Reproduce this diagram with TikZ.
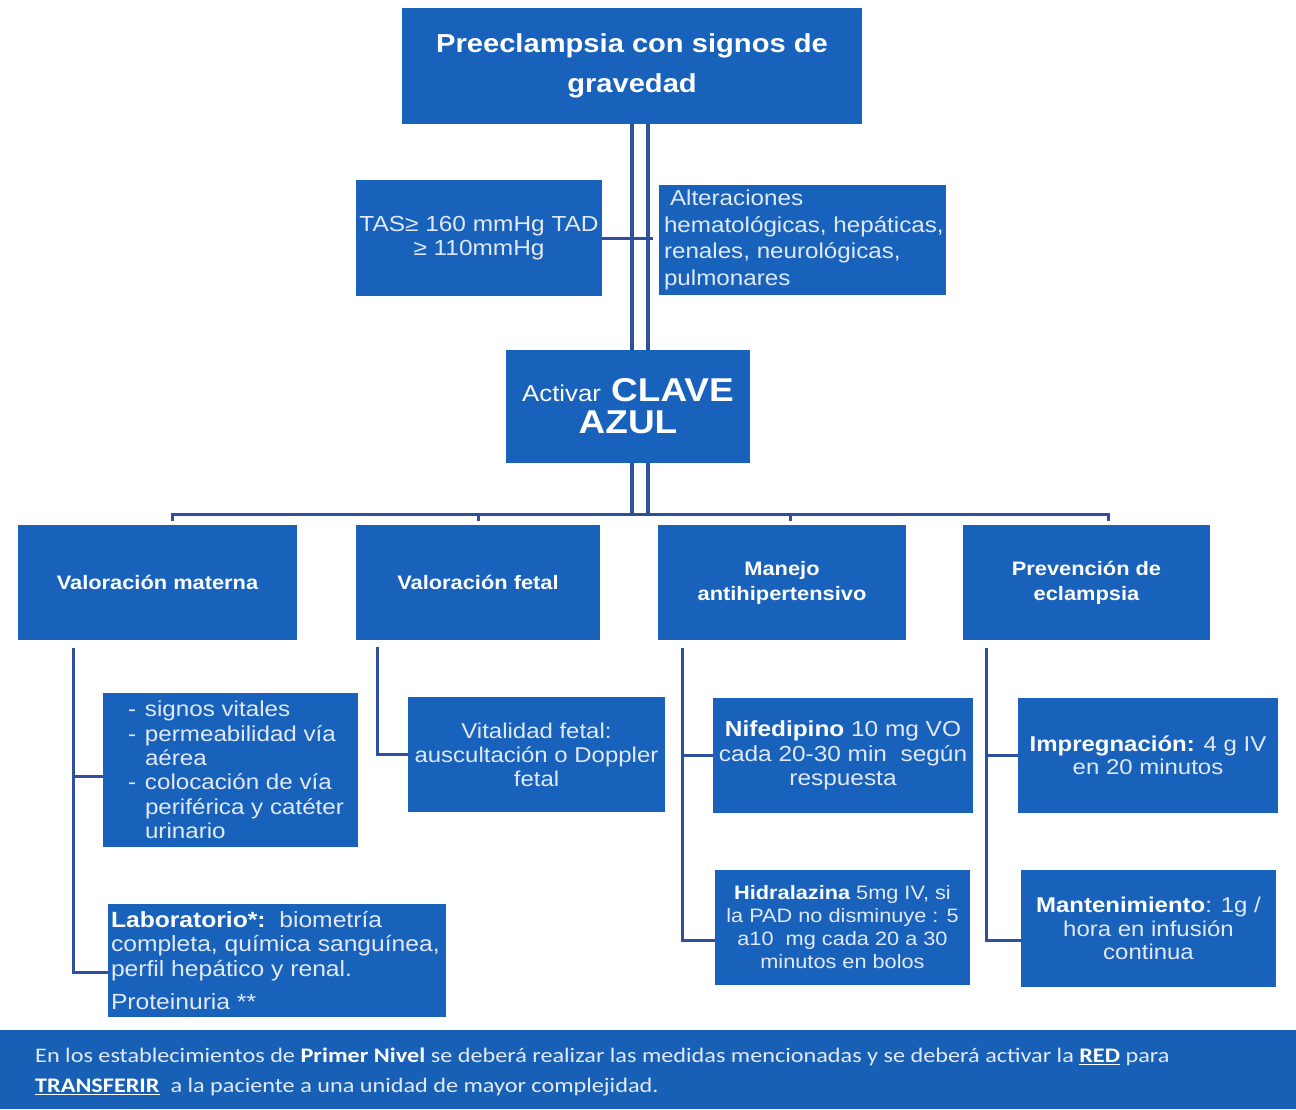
\documentclass[tikz,border=0pt]{standalone}
\usepackage{fontspec}
\setmainfont[FakeStretch=1.12]{Liberation Sans}
\newfontfamily\calib[FakeStretch=1.17]{Carlito}
\usetikzlibrary{calc}
\definecolor{boxblue}{RGB}{24,98,188}
\definecolor{lineblue}{RGB}{46,80,158}
\definecolor{txtc}{RGB}{226,233,246}
\definecolor{bannerblue}{RGB}{24,96,182}
\newcommand\hl[1]{\textcolor{white}{\bfseries #1}}
\newcommand\dsh{\makebox[17pt][l]{-}}
\begin{document}
\begin{tikzpicture}[x=1pt,y=-1pt,
  bx/.style={fill=boxblue, inner sep=0pt, text=txtc, align=center},
  conn/.style={draw=lineblue, line width=3pt},
  dconn/.style={draw=lineblue, line width=3.6pt},
  txt/.style={inner sep=0pt, text=txtc, align=left},
  hdr/.style={bx, minimum width=#1, minimum height=115pt, text=white, font=\bfseries\fontsize{19.5}{25}\selectfont}]
\useasboundingbox[fill=white] (0,0) rectangle (1296,1109);

% top level
\node[bx, minimum width=460pt, minimum height=116pt, text=white, font=\bfseries\fontsize{26}{40}\selectfont] (top) at (632,66) {Preeclampsia con signos de\\gravedad};
\node[bx, minimum width=246pt, minimum height=116pt, font=\fontsize{21.8}{24}\selectfont] (tas) at (479,238) {TAS≥ 160 mmHg TAD\\≥ 110mmHg};
\node[bx, minimum width=287pt, minimum height=110pt] (alt) at (802.5,240) {};
\node[txt, anchor=west, font=\fontsize{21.6}{26.5}\selectfont] (altt) at ([xshift=5pt]alt.west) {\hspace*{6pt}Alteraciones\\hematológicas, hepáticas,\\renales, neurológicas,\\pulmonares};
\node[bx, minimum width=244pt, minimum height=113pt, text=white, font=\bfseries\fontsize{33}{32}\selectfont] (clave) at (628,406.5) {{\mdseries\fontsize{23}{32}\selectfont Activar} CLAVE\\AZUL};

% headers
\node[hdr=279pt] (vm) at (157.5,582.5) {Valoración materna};
\node[hdr=244pt] (vf) at (478,582.5) {Valoración fetal};
\node[hdr=248pt] (mj) at (782,582.5) {Manejo\\antihipertensivo};
\node[hdr=247pt] (pe) at (1086.5,582.5) {Prevención de\\eclampsia};

% leaves
\node[bx, minimum width=255pt, minimum height=154pt] (sv) at (230.5,770) {};
\node[txt, anchor=west, font=\fontsize{21.6}{24.4}\selectfont] (svt) at ([xshift=25pt]sv.west) {\dsh signos vitales\\\dsh permeabilidad vía\\\hspace*{17pt}aérea\\\dsh colocación de vía\\\hspace*{17pt}periférica y catéter\\\hspace*{17pt}urinario};
\node[bx, minimum width=338pt, minimum height=113pt] (lab) at (277,960.5) {};
\node[txt, anchor=west, font=\fontsize{22}{24.5}\selectfont] (labt) at ([xshift=3pt]lab.west) {\hl{Laboratorio*:}\ \ biometría\\completa, química sanguínea,\\perfil hepático y renal.\\[9pt]Proteinuria **};
\node[bx, minimum width=257pt, minimum height=115pt, font=\fontsize{21.4}{24}\selectfont] (vit) at (536.5,754.5) {Vitalidad fetal:\\auscultación o Doppler\\fetal};
\node[bx, minimum width=260pt, minimum height=115pt, font=\fontsize{21.8}{24.5}\selectfont] (nif) at (843,755.5) {\hl{Nifedipino} 10 mg VO\\cada 20-30 min\ \ según\\respuesta};
\node[bx, minimum width=255pt, minimum height=115pt, font=\fontsize{19.4}{23}\selectfont] (hid) at (842.5,927.5) {\hl{Hidralazina} 5mg IV, si\\la PAD no disminuye : 5\\a10\ \ mg cada 20 a 30\\minutos en bolos};
\node[bx, minimum width=260pt, minimum height=115pt, font=\fontsize{21.4}{23}\selectfont] (imp) at (1148,755.5) {\hl{Impregnación:} 4 g IV\\en 20 minutos};
\node[bx, minimum width=255pt, minimum height=117pt, font=\fontsize{21.4}{23.5}\selectfont] (man) at (1148.5,928.5) {\hl{Mantenimiento}: 1g /\\hora en infusión\\continua};

% banner
\node[fill=bannerblue, minimum width=1296pt, minimum height=79pt, inner sep=0pt, anchor=north west] (ban) at (0,1030) {};
\node[txt, anchor=west, font=\calib\fontsize{20.7}{30}\selectfont] (bant) at ([xshift=35pt,yshift=-2.5pt]ban.west) {En los establecimientos de \hl{Primer Nivel} se deberá realizar las medidas mencionadas y se deberá activar la \hl{\underline{RED}} para\\\hl{\underline{TRANSFERIR}}\ \ a la paciente a una unidad de mayor complejidad.};

% connectors top
\draw[dconn] (top.south) -- (top.south |- clave.north);
\draw[dconn] ([xshift=16pt]top.south) -- ([xshift=16pt]top.south |- clave.north);
\draw[conn] (tas.east) -- ([xshift=21pt]tas.east -| top.south);

% bus
\coordinate (busL) at (172,514);
\coordinate (busR) at (1108,514);
\coordinate (busA) at (478,514);
\coordinate (busB) at (790,514);
\draw[dconn] ([xshift=4pt]clave.south) -- ([xshift=4pt]clave.south |- busL);
\draw[dconn] ([xshift=20pt]clave.south) -- ([xshift=20pt]clave.south |- busL);
\draw[conn] ([yshift=-7pt]busL) -- (busL) -- (busR) -- ([yshift=-7pt]busR);
\draw[conn] (busA) -- ([yshift=-7pt]busA);
\draw[conn] (busB) -- ([yshift=-7pt]busB);

% subtrees
\coordinate (vmA) at (73,648);
\coordinate (svIn) at ([yshift=-6pt]sv.west);
\draw[conn] (vmA) |- ([yshift=-12pt]lab.west);
\draw[conn] (vmA |- svIn) -- (svIn);
\coordinate (vfA) at (377,647);
\draw[conn] (vfA) |- (vit.west);
\coordinate (mjA) at (682,648);
\draw[conn] (mjA) |- ([yshift=-12.5pt]hid.west);
\draw[conn] (mjA |- nif.west) -- (nif.west);
\coordinate (peA) at (986,648);
\draw[conn] (peA) |- ([yshift=-11.5pt]man.west);
\draw[conn] (peA |- imp.west) -- (imp.west);
\end{tikzpicture}
\end{document}
